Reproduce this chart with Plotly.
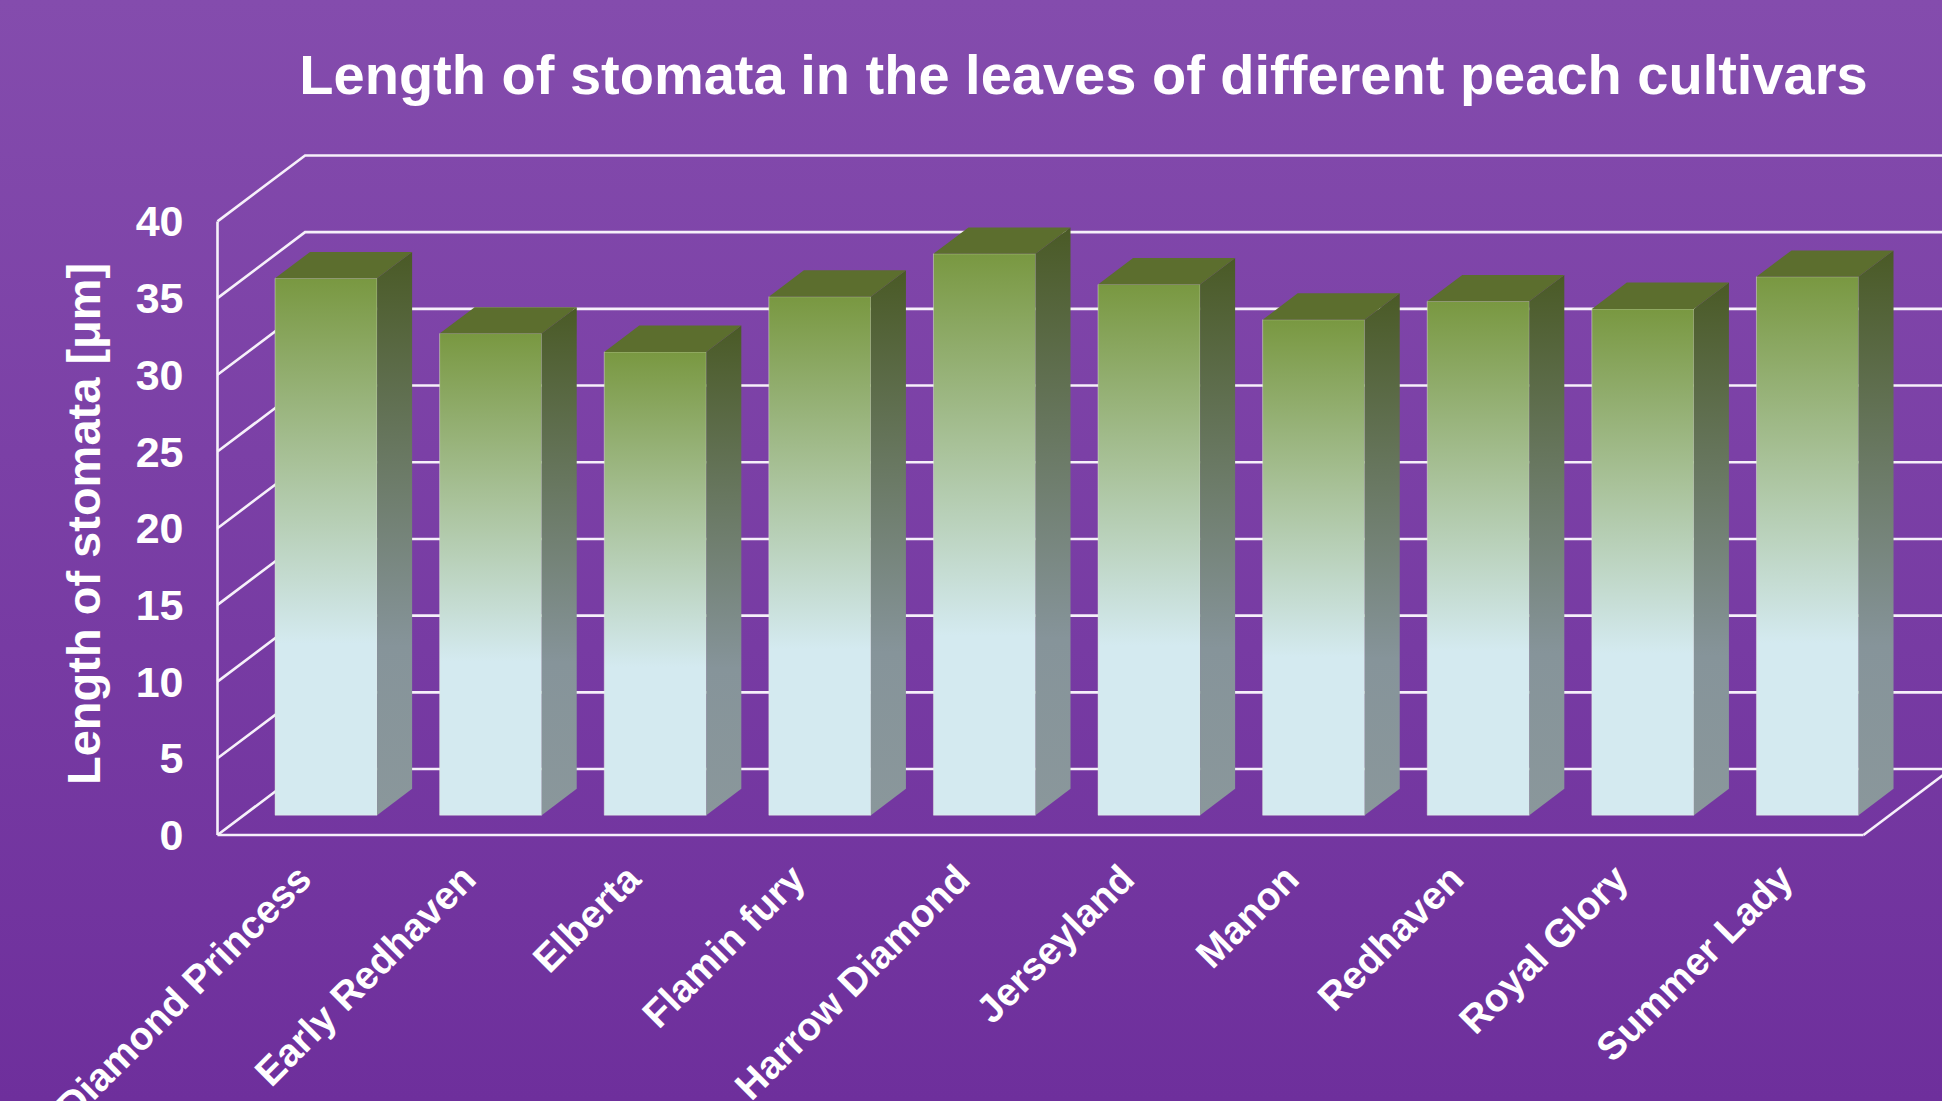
import base64
import plotly.graph_objects as go

# ---------------- data ----------------
cultivars = ["Diamond Princess", "Early Redhaven", "Elberta", "Flamin fury", "Harrow Diamond",
             "Jerseyland", "Manon", "Redhaven", "Royal Glory", "Summer Lady"]
stomata_length = [35.0, 31.4, 30.2, 33.8, 36.6, 34.6, 32.3, 33.5, 33.0, 35.1]
y_ticks = [0, 5, 10, 15, 20, 25, 30, 35, 40]
title_text = "Length of stomata in the leaves of different peach cultivars"
y_title = "Length of stomata [μm]"

# ---------------- layout geometry ----------------
W, H = 1942, 1101
ORIGIN_PX, ORIGIN_PY = 217.5, 835.0      # pixel of the front (0,0) corner
PX_CAT, PX_UNIT = 164.6, 15.34           # pixels per category / per value unit
DX, DY = 0.532, 4.3                      # oblique depth offset (data units)
D0, D1 = 0.30, 0.70                      # bar depth span (fraction of full depth)
BW = 0.62                                # bar width (fraction of category)
FONT = "Liberation Sans, Arial, sans-serif"

x_range = [-ORIGIN_PX / PX_CAT, (W - ORIGIN_PX) / PX_CAT]
y_range = [-(H - ORIGIN_PY) / PX_UNIT, ORIGIN_PY / PX_UNIT]
n = len(cultivars)
ymax = y_ticks[-1]


def proj(x, y, d):
    return x + d * DX, y + d * DY


def poly(points):
    xs, ys = [], []
    for p in points + [points[0]]:
        px, py = proj(*p)
        xs.append(px)
        ys.append(py)
    return xs, ys


fig = go.Figure()

# ---------------- walls / gridlines ----------------
gx, gy = [], []
for v in y_ticks:
    for p in [(0, v, 0), (0, v, 1), (n, v, 1)]:
        px, py = proj(*p)
        gx.append(px)
        gy.append(py)
    gx.append(None)
    gy.append(None)
# front vertical axis, front floor edge, right floor edge
for seg in [[(0, 0, 0), (0, ymax, 0)], [(0, 0, 0), (n, 0, 0)], [(n, 0, 0), (n, 0, 1)]]:
    for p in seg:
        px, py = proj(*p)
        gx.append(px)
        gy.append(py)
    gx.append(None)
    gy.append(None)

fig.add_trace(go.Scatter(x=gx, y=gy, mode="lines", line=dict(color="#F6F0FA", width=2.6),
                         hoverinfo="skip", showlegend=False))

# ---------------- 3D bars ----------------
front_scale = [[0, "#D4EAF0"], [0.32, "#D4EAF0"], [0.66, "#A8C198"], [1, "#799841"]]
side_scale = [[0, "#8A979B"], [0.3, "#86949A"], [1, "#4A5A26"]]
top_color = "#5C6E2E"

for i, v in enumerate(stomata_length):
    x0 = i + (1 - BW) / 2
    x1 = i + (1 + BW) / 2
    base = D0 * DY
    # front face
    fx, fy = poly([(x0, 0, D0), (x1, 0, D0), (x1, v, D0), (x0, v, D0)])
    fig.add_trace(go.Scatter(
        x=fx, y=fy, mode="lines", fill="toself", line=dict(width=0.8, color="rgba(235,240,225,0.55)"),
        fillgradient=dict(type="vertical", colorscale=front_scale, start=base, stop=v + base),
        hoverinfo="skip", showlegend=False))
    # side face
    sx, sy = poly([(x1, 0, D0), (x1, 0, D1), (x1, v, D1), (x1, v, D0)])
    fig.add_trace(go.Scatter(
        x=sx, y=sy, mode="lines", fill="toself", line=dict(width=0),
        fillgradient=dict(type="vertical", colorscale=side_scale, start=base, stop=v + D1 * DY),
        hoverinfo="skip", showlegend=False))
    # top face
    tx, ty = poly([(x0, v, D0), (x1, v, D0), (x1, v, D1), (x0, v, D1)])
    fig.add_trace(go.Scatter(
        x=tx, y=ty, mode="lines", fill="toself", line=dict(width=0),
        fillcolor=top_color, hoverinfo="skip", showlegend=False))

# ---------------- background gradient ----------------
svg = (f'<svg xmlns="http://www.w3.org/2000/svg" width="{W}" height="{H}" preserveAspectRatio="none">'
       '<defs><linearGradient id="g" x1="0" y1="0" x2="0" y2="1">'
       '<stop offset="0" stop-color="#844CAD"/><stop offset="1" stop-color="#6E2F9C"/>'
       '</linearGradient></defs>'
       f'<rect width="{W}" height="{H}" fill="url(#g)"/></svg>')
bg_src = "data:image/svg+xml;base64," + base64.b64encode(svg.encode()).decode()

fig.update_layout(
    width=W, height=H,
    margin=dict(l=0, r=0, t=0, b=0),
    paper_bgcolor="#7A3EA5",
    plot_bgcolor="rgba(0,0,0,0)",
    showlegend=False,
    images=[dict(source=bg_src, xref="paper", yref="paper", x=0, y=1, sizex=1, sizey=1,
                 xanchor="left", yanchor="top", sizing="stretch", layer="below")],
    title=dict(text=title_text, x=1083.5 / W, xanchor="center", y=1 - 74 / H, yanchor="middle",
               font=dict(family=FONT, size=56, color="white", weight="bold")),
    xaxis=dict(range=x_range, showgrid=False, zeroline=False, showline=False, ticks="",
               tickmode="array", tickvals=[i + 0.5 for i in range(n)], ticktext=cultivars,
               tickangle=-45, tickfont=dict(family=FONT, size=39, color="white", weight="bold"),
               anchor="free", position=(H - ORIGIN_PY) / H, ticklabelstandoff=12,
               automargin=False, fixedrange=True),
    yaxis=dict(range=y_range, showgrid=False, zeroline=False, showline=False, ticks="",
               tickmode="array", tickvals=y_ticks, ticktext=[str(t) for t in y_ticks],
               tickfont=dict(family=FONT, size=43, color="white", weight="bold"),
               anchor="free", position=ORIGIN_PX / W, ticklabelstandoff=34,
               automargin=False, fixedrange=True),
    annotations=[dict(text=y_title, xref="paper", yref="paper", x=84 / W, y=1 - 524 / H,
                      xanchor="center", yanchor="middle", textangle=-90, showarrow=False,
                      font=dict(family=FONT, size=47, color="white", weight="bold"))],
)

fig.write_html("out.html")
